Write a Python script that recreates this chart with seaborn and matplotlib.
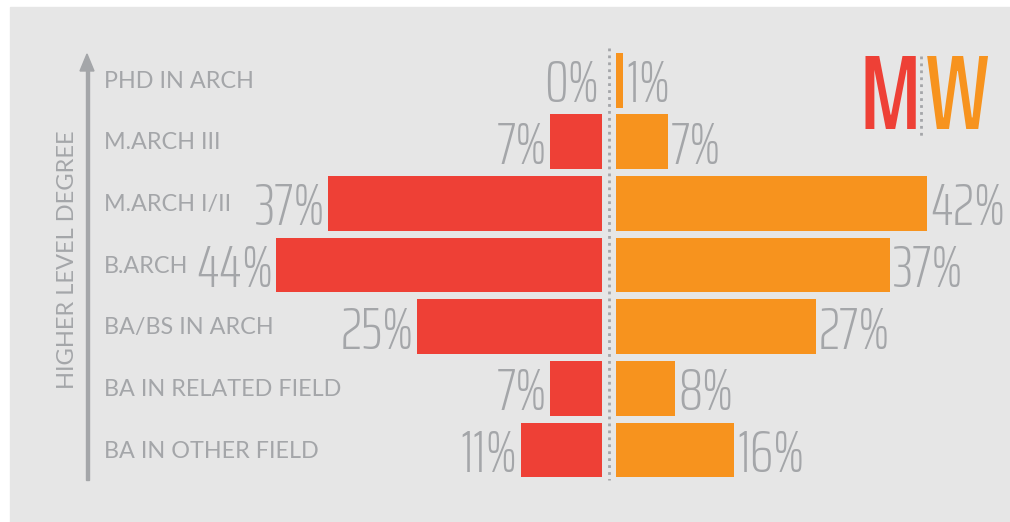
import matplotlib
matplotlib.use("Agg")
import pandas as pd
import seaborn as sns
import matplotlib.pyplot as plt
from matplotlib.patches import Rectangle

# degree levels, top to bottom
degrees = ["PHD IN ARCH", "M.ARCH III", "M.ARCH I/II", "B.ARCH",
           "BA/BS IN ARCH", "BA IN RELATED FIELD", "BA IN OTHER FIELD"]
men = [0, 7, 37, 44, 25, 7, 11]
women = [1, 7, 42, 37, 27, 8, 16]

RED = "#ee4036"
ORANGE = "#f7931e"
GREY = "#a4a6a9"
BG = "#e6e6e6"
NARROW = ["Saira ExtraCondensed", "Antonio", "DejaVu Sans"]

sns.set_theme(style="white")
plt.rcParams["font.family"] = ["Lato", "DejaVu Sans"]

W, H = 1010, 522
fig = plt.figure(figsize=(W / 100, H / 100), dpi=100, facecolor="white")
fig.patches.append(Rectangle((10 / W, 0), 1 - 10 / W, (H - 7) / H,
                             transform=fig.transFigure, color=BG, zorder=-10))

px = 7.4  # pixels per percent
bot, hgt = (H - 511.7) / H, 493.3 / H
axL = fig.add_axes([(602 - 352) / W, bot, 352 / W, hgt])
axR = fig.add_axes([616 / W, bot, 384 / W, hgt])

df = pd.DataFrame({"degree": degrees, "men": men, "women": women})
sns.barplot(data=df, x="men", y="degree", ax=axL, color=RED, width=0.89,
            saturation=1, orient="h", linewidth=0)
sns.barplot(data=df, x="women", y="degree", ax=axR, color=ORANGE, width=0.89,
            saturation=1, orient="h", linewidth=0)

axL.set_xlim(352 / px, 0)
axR.set_xlim(0, 384 / px)
pct_font = dict(family=NARROW, fontsize=43, fontweight=275,
                color=GREY, va="center")
for ax in (axL, axR):
    ax.set_ylim(6 + 1.0, -1.0)
    ax.axis("off")
    ax.patch.set_alpha(0)
for i, v in enumerate(men):
    axL.text(v + 0.4, i + 0.09, f"{v}%", ha="right", clip_on=False, **pct_font)
for i, v in enumerate(women):
    axR.text(v + 0.4, i + 0.09, f"{v}%", ha="left", clip_on=False, **pct_font)

# category labels and axis arrow
for i, d in enumerate(degrees):
    y = 1 - (81 + 61.67 * i) / H
    fig.text(104 / W, y, d, ha="left", va="center", fontsize=16.8, color=GREY)
fig.text(67 / W, 1 - 260 / H, "HIGHER LEVEL DEGREE", rotation=90,
         ha="center", va="center", fontsize=17, color=GREY)
fig.patches.append(Rectangle((86 / W, 1 - 480 / H), 2.5 / W, 412 / H,
                             transform=fig.transFigure, color=GREY))
fig.add_artist(plt.Polygon([(80 / W, 1 - 71 / H), (94 / W, 1 - 71 / H),
                            (87 / W, 1 - 54 / H)], closed=True,
                           transform=fig.transFigure, color=GREY))

# center dotted line
fig.add_artist(plt.Line2D([609 / W, 609 / W], [1 - 48 / H, 1 - 480 / H],
                          transform=fig.transFigure, color=GREY, lw=2,
                          linestyle=(0, (1, 1.5))))

# M | W legend
leg_font = dict(family=NARROW, fontsize=76, fontweight=500,
                va="center", ha="center")
fig.text(890 / W, 1 - 100 / H, "M", color=RED, **leg_font)
fig.text(957 / W, 1 - 100 / H, "W", color=ORANGE, **leg_font)
fig.add_artist(plt.Line2D([921 / W, 921 / W], [1 - 56 / H, 1 - 138 / H],
                          transform=fig.transFigure, color=GREY, lw=2,
                          linestyle=(0, (1, 1.5))))

fig.savefig("out.png", dpi=100, facecolor="white")
